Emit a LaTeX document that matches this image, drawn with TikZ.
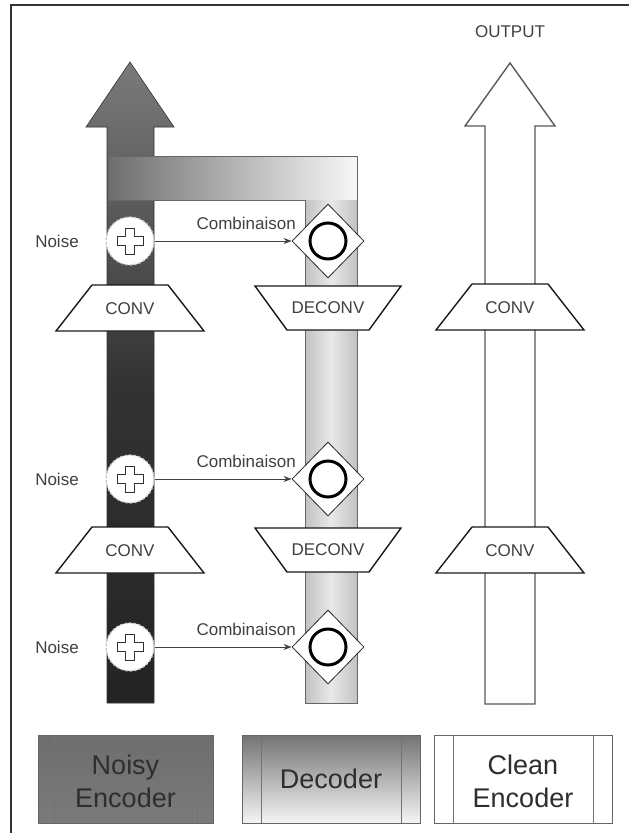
\documentclass[tikz,border=0pt]{standalone}
\usepackage{fontspec}
\setmainfont{Liberation Sans}
\usetikzlibrary{shapes.geometric,arrows.meta}
\begin{document}
\begin{tikzpicture}[x=1pt,y=-1pt,
  lbl/.style={font=\fontsize{17}{19}\selectfont, text=black!75, inner sep=0},
  legtxt/.style={font=\fontsize{27}{33}\selectfont, text=black!82, align=center, inner sep=0},
  legbox/.style={rectangle, draw=black!60, line width=0.9pt, minimum height=88pt, inner sep=0},
  innerline/.style={draw=black!55, line width=0.9pt},
  noisebox/.style={circle, minimum size=48pt, inner sep=0, fill=white, draw=black!22, dash pattern=on 2.5pt off 2pt, line width=1.3pt},
  combo/.style={diamond, minimum width=72pt, minimum height=74pt, inner sep=0, fill=white, draw=black!85, line width=0.8pt},
  trapfill/.style={fill=white, draw=black!90, line width=1.4pt, line join=miter},
  link/.style={draw=black!75, line width=0.8pt, -{Stealth[length=8pt,width=6pt]}},
  plusfill/.style={fill=white, draw=black!80, line width=0.7pt},
]
\useasboundingbox (0,0) rectangle (629,833);
\fill[white] (0,0) rectangle (629,833);
% frame
\draw[black!80, line width=1.3pt] (11,833) -- (11,5) -- (629,5);

% noisy encoder arrow
\shade[top color=black!52, bottom color=black!86, middle color=black!80, draw=black!80, line width=0.6pt]
  (130,62) -- (174,127) -- (154,127) -- (154,703) -- (107,703) -- (107,127) -- (86,127) -- cycle;

% decoder L band
\shade[left color=black!57, right color=black!3] (108,156) rectangle (357,200);
\shade[left color=black!24, right color=black!9] (305,200) rectangle (331,703);
\shade[left color=black!9, right color=black!24] (331,200) rectangle (357,703);
\draw[black!60, line width=0.8pt] (108,200) -- (108,156) -- (357,156) -- (357,703) -- (305,703) -- (305,200) -- cycle;

% clean encoder arrow
\draw[fill=white, draw=black!65, line width=1.4pt, line join=miter]
  (510,63) -- (555,126) -- (535,126) -- (535,704) -- (485,704) -- (485,126) -- (465,126) -- cycle;
\node[lbl] (out) at (510,32) {OUTPUT};

% CONV / DECONV trapezoids
\foreach \cx/\cy/\nm in {130/308/convA, 130/550/convB, 510/307/convC, 510/550/convD} {
  \draw[trapfill, shift={(\cx,\cy)}] (-38,-23) -- (38,-23) -- (74,23) -- (-74,23) -- cycle;
  \node[lbl] (\nm) at (\cx,\cy+1) {CONV};
}
\foreach \cy/\nm in {308/deconvA, 550/deconvB} {
  \draw[trapfill, shift={(328,\cy)}] (-73,-22) -- (73,-22) -- (41,22) -- (-41,22) -- cycle;
  \node[lbl] (\nm) at (328,\cy) {DECONV};
}

% noise, combination
\foreach \y/\i in {241/1, 479/2, 647/3} {
  \node[noisebox] (n\i) at (130,\y) {};
  \draw[plusfill, shift={(n\i.center)}]
    (-4.5,-13) -- (4.5,-13) -- (4.5,-4.5) -- (13,-4.5) -- (13,4.5) -- (4.5,4.5) --
    (4.5,13) -- (-4.5,13) -- (-4.5,4.5) -- (-13,4.5) -- (-13,-4.5) -- (-4.5,-4.5) -- cycle;
  \node[combo] (d\i) at (328,\y) {};
  \draw[black, line width=3pt] (d\i.center) circle[radius=18];
  \node[lbl, anchor=base] (nl\i) at (57,\y+6) {Noise};
  \draw[link] (n\i.east) -- (d\i.west);
  \node[lbl, anchor=base east] (cl\i) at (296,\y-12) {Combinaison};
}

% legend
\node[legbox, shade, top color=black!57, bottom color=black!52, minimum width=175pt] (legN) at (125.5,779) {};
\draw[innerline] (54,735) -- (54,823) (197,735) -- (197,823);
\node[legtxt] (legNt) at (125.5,781) {Noisy\\Encoder};

\node[legbox, shade, top color=black!55, bottom color=black!4, minimum width=178pt] (legD) at (331,779) {};
\draw[innerline] (261,735) -- (261,823) (401,735) -- (401,823);
\node[legtxt] (legDt) at (331,779) {Decoder};

\node[legbox, fill=white, minimum width=178pt] (legC) at (523,779) {};
\draw[innerline] (453,735) -- (453,823) (593,735) -- (593,823);
\node[legtxt] (legCt) at (523,781) {Clean\\Encoder};
\end{tikzpicture}
\end{document}
